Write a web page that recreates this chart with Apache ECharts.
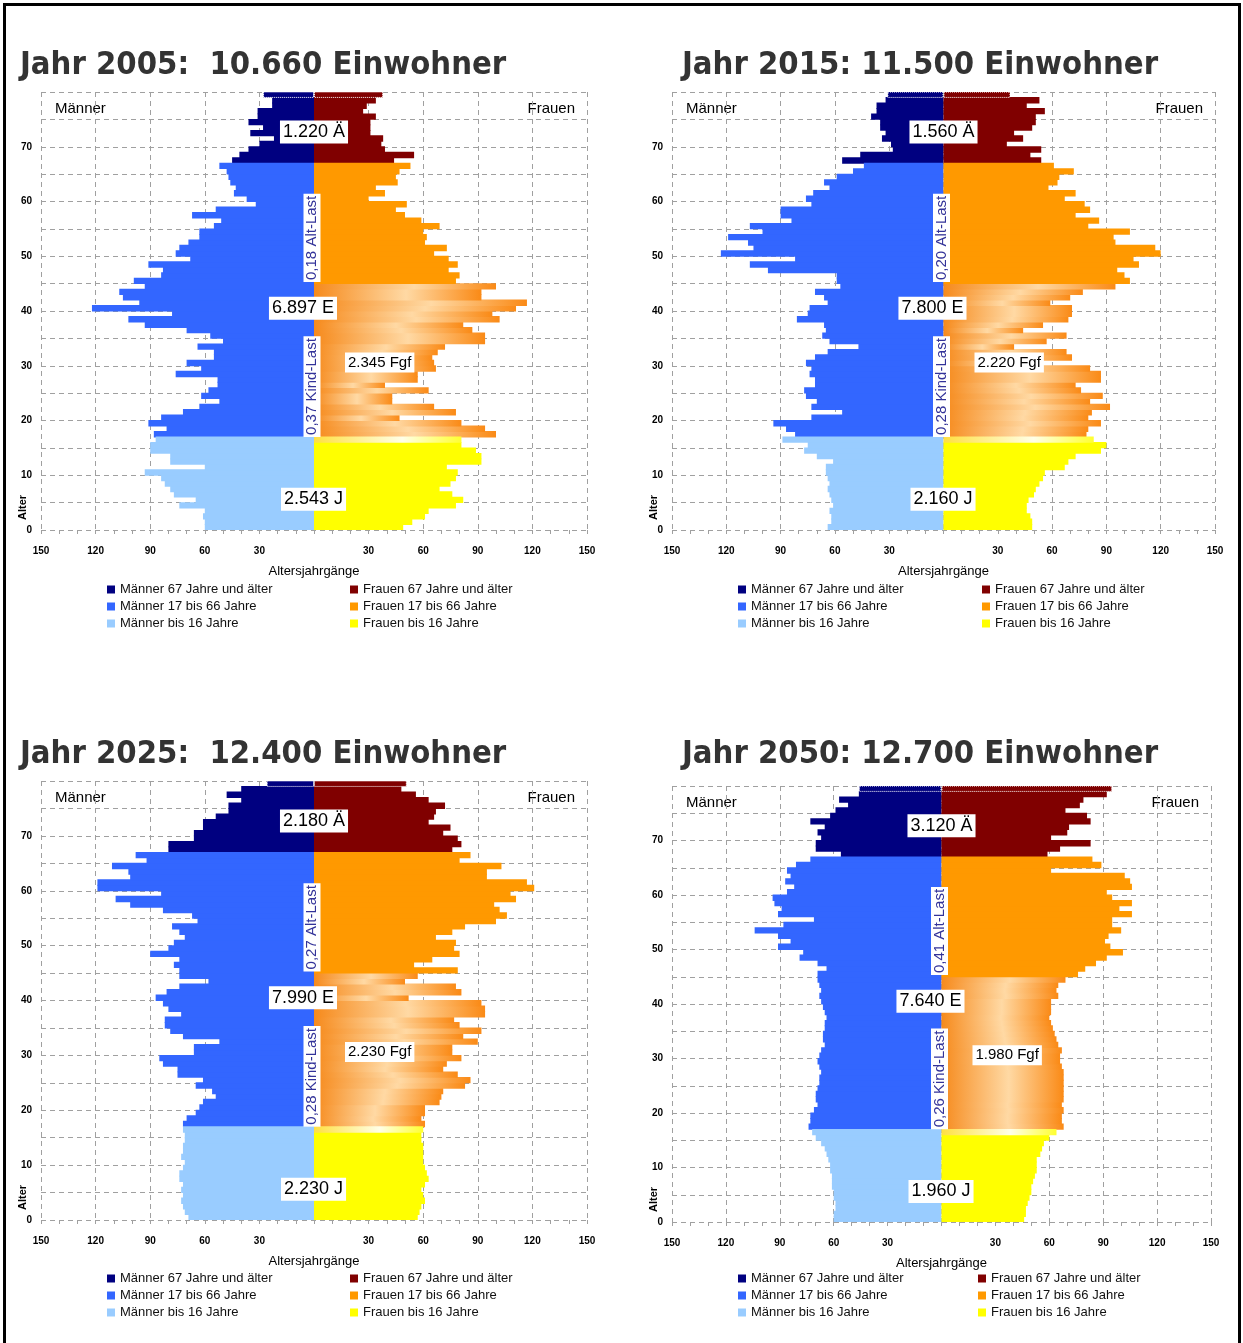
<!DOCTYPE html>
<html lang="de">
<head>
<meta charset="utf-8">
<title>Bevölkerungspyramiden 2005 - 2050</title>
<script src="https://cdn.jsdelivr.net/npm/echarts@6.0.0/dist/echarts.min.js"></script>
<style>
  html, body { margin: 0; padding: 0; background: #fff; }
  #chart { width: 1243px; height: 1343px; }
</style>
</head>
<body>
<div id="chart"></div>
<script>
// Altersjahre 0 .. 79, von unten nach oben
const ages = Array.from({ length: 80 }, (_, i) => String(i));

// Personen je Altersjahr (Index = Alter)
const men2005 = [60, 60, 61, 60, 74, 65, 77, 79, 82, 84, 93, 60, 79, 79, 90, 90, 87, 88, 81, 91,
  84, 72, 63, 52, 62, 58, 53, 53, 76, 62, 70, 55, 55, 64, 50, 57, 70, 93, 102, 78,
  122, 96, 105, 107, 93, 99, 84, 83, 91, 68, 76, 74, 69, 63, 63, 55, 51, 67, 54, 32,
  37, 44, 43, 46, 47, 48, 52, 45, 41, 36, 30, 22, 35, 28, 36, 31, 31, 23, 23, 28];
const women2005 = [49, 54, 61, 63, 78, 82, 76, 69, 75, 78, 79, 73, 92, 92, 89, 81, 81, 100, 94, 81,
  47, 78, 66, 43, 43, 63, 39, 57, 57, 67, 66, 65, 68, 72, 94, 94, 87, 82, 102, 98,
  111, 117, 92, 92, 100, 78, 80, 74, 79, 74, 66, 73, 61, 62, 60, 69, 59, 50, 45, 51,
  30, 39, 34, 46, 45, 47, 53, 44, 55, 39, 37, 38, 31, 31, 31, 34, 27, 29, 34, 38];
const men2015 = [64, 62, 62, 63, 61, 62, 63, 64, 63, 64, 65, 65, 61, 70, 77, 75, 89, 82, 87, 94,
  73, 56, 73, 70, 76, 77, 71, 71, 74, 73, 76, 71, 64, 47, 63, 67, 65, 66, 81, 75,
  74, 64, 66, 71, 57, 59, 59, 97, 107, 82, 123, 105, 108, 119, 100, 107, 84, 90, 90, 73,
  76, 72, 63, 66, 59, 50, 44, 56, 46, 28, 29, 34, 32, 35, 35, 40, 37, 37, 32, 31];
const women2015 = [49, 49, 48, 46, 46, 47, 50, 51, 53, 55, 56, 67, 69, 73, 87, 90, 83, 79, 80, 87,
  80, 82, 92, 81, 88, 76, 73, 87, 87, 81, 53, 71, 68, 39, 57, 68, 44, 55, 69, 71,
  71, 59, 70, 77, 95, 103, 100, 96, 108, 105, 120, 117, 95, 94, 103, 80, 86, 73, 81, 78,
  67, 73, 58, 63, 64, 72, 61, 54, 48, 54, 35, 44, 39, 49, 51, 51, 56, 46, 53, 37];
const men2025 = [69, 71, 72, 73, 72, 73, 72, 74, 74, 72, 71, 73, 72, 72, 71, 71, 72, 72, 70, 65,
  63, 61, 54, 56, 65, 61, 75, 75, 83, 85, 66, 66, 52, 72, 79, 82, 82, 73, 80, 83,
  87, 81, 74, 58, 74, 74, 77, 74, 90, 80, 77, 71, 74, 78, 64, 67, 83, 101, 109, 84,
  119, 119, 101, 102, 111, 92, 98, 80, 80, 66, 66, 61, 61, 54, 47, 47, 40, 48, 40, 26];
const women2025 = [57, 58, 59, 61, 60, 59, 61, 63, 62, 61, 60, 60, 60, 60, 59, 59, 60, 61, 59, 61,
  61, 69, 70, 71, 83, 86, 79, 71, 73, 81, 76, 76, 90, 82, 92, 80, 77, 94, 94, 92,
  52, 81, 78, 50, 57, 79, 55, 65, 80, 77, 78, 67, 76, 83, 100, 106, 102, 99, 111, 108,
  121, 117, 95, 95, 103, 80, 86, 76, 81, 79, 71, 75, 63, 66, 67, 72, 63, 56, 48, 51];
const men2050 = [60, 60, 59, 59, 60, 60, 61, 61, 61, 62, 62, 63, 64, 65, 67, 70, 72, 74, 73, 73,
  71, 69, 70, 70, 69, 68, 68, 67, 68, 69, 68, 67, 65, 66, 66, 65, 65, 64, 65, 66,
  67, 68, 67, 68, 69, 69, 64, 69, 79, 77, 91, 84, 91, 104, 88, 71, 91, 89, 93, 94,
  86, 82, 87, 84, 86, 81, 73, 56, 70, 70, 67, 69, 65, 73, 62, 59, 52, 57, 46, 46];
const women2050 = [46, 47, 47, 48, 49, 50, 50, 51, 52, 53, 53, 53, 55, 56, 57, 60, 64, 68, 67, 67,
  68, 67, 68, 68, 68, 68, 68, 68, 67, 66, 66, 67, 65, 64, 63, 62, 61, 60, 61, 61,
  61, 65, 64, 65, 69, 76, 80, 86, 92, 101, 94, 91, 93, 100, 95, 95, 106, 99, 106, 95,
  92, 106, 105, 102, 61, 89, 84, 59, 66, 83, 61, 70, 71, 83, 81, 69, 77, 79, 92, 95];

const menData = [men2005, men2015, men2025, men2050];
const womenData = [women2005, women2015, women2025, women2050];

// Beschriftungen je Jahr
const titles = ['Jahr 2005:  10.660 Einwohner', 'Jahr 2015: 11.500 Einwohner',
  'Jahr 2025:  12.400 Einwohner', 'Jahr 2050: 12.700 Einwohner'];
const oldLabels = ['1.220 Ä', '1.560 Ä', '2.180 Ä', '3.120 Ä'];
const workLabels = ['6.897 E', '7.800 E', '7.990 E', '7.640 E'];
const fgfLabels = ['2.345 Fgf', '2.220 Fgf', '2.230 Fgf', '1.980 Fgf'];
const youngLabels = ['2.543 J', '2.160 J', '2.230 J', '1.960 J'];
const oldLoad = ['0,18 Alt-Last', '0,20 Alt-Last', '0,27 Alt-Last', '0,41 Alt-Last'];
const childLoad = ['0,37 Kind-Last', '0,28 Kind-Last', '0,28 Kind-Last', '0,26 Kind-Last'];

const seriesNames = ['Männer 67 Jahre und älter', 'Männer 17 bis 66 Jahre', 'Männer bis 16 Jahre',
  'Frauen 67 Jahre und älter', 'Frauen 17 bis 66 Jahre', 'Frauen bis 16 Jahre'];
const colors = ['#000080', '#3366ff', '#99ccff', '#800000', '#ff9900', '#ffff00'];

// Lage der vier Diagramme (Pixel)
const layouts = [
  { left: 41, top: 92, right: 587, bottom: 530, titleX: 20, titleY: 66, legendTop: 583, legendL: 107, legendR: 350 },
  { left: 672, top: 92, right: 1215, bottom: 530, titleX: 682, titleY: 66, legendTop: 583, legendL: 738, legendR: 982 },
  { left: 41, top: 781, right: 587, bottom: 1220, titleX: 20, titleY: 755, legendTop: 1272, legendL: 107, legendR: 350 },
  { left: 672, top: 786, right: 1211, bottom: 1222, titleX: 682, titleY: 755, legendTop: 1272, legendL: 738, legendR: 978 }
];

const FONT = 'Liberation Sans, Arial, sans-serif';
const gridLine = { color: '#a0a0a0', type: [5, 4], width: 1 };

const fgfGradient = {
  type: 'linear', x: 0, y: 0, x2: 1, y2: 0,
  colorStops: [
    { offset: 0, color: '#f68a1c' },
    { offset: 0.55, color: '#ffd9a4' },
    { offset: 1, color: '#fa8a16' }
  ]
};
const glowGradient = {
  type: 'linear', x: 0, y: 0, x2: 1, y2: 0,
  colorStops: [
    { offset: 0, color: '#ffe040' },
    { offset: 0.6, color: '#ffffe8' },
    { offset: 1, color: '#ffff30' }
  ]
};

function segment(values, from, to, sign) {
  return values.map((v, age) => (age >= from && age <= to ? sign * v : '-'));
}

function decorate(data, fn) {
  return data.map((v, age) => (v === '-' ? v : fn(v, age)));
}

const option = {
  animation: false,
  backgroundColor: '#fff',
  grid: [], xAxis: [], yAxis: [], series: [], legend: [], graphic: []
};

function buildPanel(i) {
  const l = layouts[i];
  const cx = (l.left + l.right) / 2;
  const band = (l.bottom - l.top) / 80;
  const ageY = (a) => l.bottom - a * band;

  option.grid.push({ left: l.left, top: l.top, width: l.right - l.left, height: l.bottom - l.top });

  option.xAxis.push({
    type: 'value', gridIndex: i, min: -150, max: 150, interval: 30,
    axisLine: { show: false },
    axisTick: { show: true, length: 4, lineStyle: { color: '#a0a0a0' } },
    minorTick: { show: true, splitNumber: 3, length: 4, lineStyle: { color: '#a0a0a0' } },
    splitLine: { show: true, lineStyle: gridLine },
    axisLabel: {
      formatter: (v) => (v === 0 ? '' : String(Math.abs(v))),
      fontSize: 10, fontWeight: 'bold', color: '#000', margin: 16, fontFamily: FONT
    },
    name: 'Altersjahrgänge', nameLocation: 'middle', nameGap: 35,
    nameTextStyle: { fontSize: 13, color: '#000', fontFamily: FONT }
  });

  // Kategorien für die Balken
  option.yAxis.push({ type: 'category', gridIndex: i, data: ages, show: false, boundaryGap: true });
  // Werteachse nur für Gitter und Beschriftung
  option.yAxis.push({
    type: 'value', gridIndex: i, position: 'left', min: 0, max: 80, interval: 5,
    axisLine: { show: false }, axisTick: { show: false },
    splitLine: { show: true, lineStyle: gridLine },
    axisLabel: {
      formatter: (v) => (v % 10 === 0 && v < 80 ? String(v) : ''),
      fontSize: 10, fontWeight: 'bold', color: '#000', margin: 9, fontFamily: FONT
    }
  });

  const men = menData[i];
  const women = womenData[i];
  const ranges = [[67, 79, -1, men], [17, 66, -1, men], [0, 16, -1, men],
    [67, 79, 1, women], [17, 66, 1, women], [0, 16, 1, women]];

  ranges.forEach(([from, to, sign, values], k) => {
    let data = segment(values, from, to, sign);
    if (k === 0 || k === 3) {
      data = decorate(data, (v, age) => (age === 79
        ? { value: v, itemStyle: { borderType: 'dotted', borderColor: '#fff', borderWidth: 1 } } : v));
    }
    if (k === 4) {
      data = decorate(data, (v, age) => (age <= 44 ? { value: v, itemStyle: { color: fgfGradient } } : v));
    }
    if (k === 5) {
      data = decorate(data, (v, age) => (age === 16 ? { value: v, itemStyle: { color: glowGradient } } : v));
    }
    option.series.push({
      name: seriesNames[k], type: 'bar', xAxisIndex: i, yAxisIndex: i * 2,
      barGap: '-100%', barWidth: band + 0.9,
      itemStyle: { color: colors[k] },
      data: data
    });
  });

  const legendBase = {
    orient: 'vertical', itemWidth: 8, itemHeight: 8, itemGap: 4, padding: 0,
    icon: 'rect', selectedMode: false, top: l.legendTop,
    textStyle: { fontSize: 13, color: '#111', fontFamily: FONT }
  };
  option.legend.push(Object.assign({}, legendBase, { left: l.legendL, data: seriesNames.slice(0, 3) }));
  option.legend.push(Object.assign({}, legendBase, { left: l.legendR, data: seriesNames.slice(3) }));

  // Überschrift
  option.graphic.push({
    type: 'text', x: l.titleX, y: l.titleY,
    style: { text: titles[i], fill: '#333', font: 'bold 32.5px "DejaVu Sans Condensed", sans-serif', textVerticalAlign: 'middle' }
  });

  option.graphic.push({
    type: 'text', x: l.left + 14, y: l.top + 17,
    style: { text: 'Männer', fill: '#000', font: '15px ' + FONT, textVerticalAlign: 'middle' }
  });
  option.graphic.push({
    type: 'text', x: l.right - 12, y: l.top + 17,
    style: { text: 'Frauen', fill: '#000', font: '15px ' + FONT, textAlign: 'right', textVerticalAlign: 'middle' }
  });
  option.graphic.push({
    type: 'text', x: l.left - 18, y: l.bottom - 10, rotation: Math.PI / 2,
    style: { text: 'Alter', fill: '#000', font: 'bold 11px ' + FONT, textVerticalAlign: 'middle' }
  });

  // Kästchen mit Summen
  const box = (x, y, text, size, align) => ({
    type: 'text', x: x, y: y, z: 100,
    style: {
      text: text, fill: '#000', font: size + 'px ' + FONT,
      textAlign: align, textVerticalAlign: 'middle',
      backgroundColor: '#fff', padding: [3, 3, 2, 3]
    }
  });
  option.graphic.push(box(cx, ageY(72.7), oldLabels[i], 18, 'center'));
  option.graphic.push(box(cx + 23, ageY(40.5), workLabels[i], 18, 'right'));
  option.graphic.push(box(cx + 31, ageY(30.6), fgfLabels[i], 15, 'left'));
  option.graphic.push(box(cx - 33, ageY(5.6), youngLabels[i], 18, 'left'));

  // Lastquotienten, senkrecht
  const vertical = (y, text) => ({
    type: 'text', x: cx - 2, y: y, rotation: Math.PI / 2, z: 100,
    style: {
      text: text, fill: '#333399', font: '15px ' + FONT,
      textAlign: 'left', textVerticalAlign: 'middle',
      backgroundColor: '#fff', padding: [1, 2, 1, 2]
    }
  });
  option.graphic.push(vertical(ageY(45.3), oldLoad[i]));
  option.graphic.push(vertical(ageY(17.0), childLoad[i]));
}

for (let i = 0; i < 4; i++) {
  buildPanel(i);
}

// Rahmen um das Ganze
option.graphic.push({
  type: 'rect', z: 200,
  shape: { x: 4.5, y: 4.5, width: 1235, height: 1360 },
  style: { fill: 'none', stroke: '#000', lineWidth: 3 }
});

const chart = echarts.init(document.getElementById('chart'), null, { renderer: 'canvas' });
chart.setOption(option);
</script>
</body>
</html>
